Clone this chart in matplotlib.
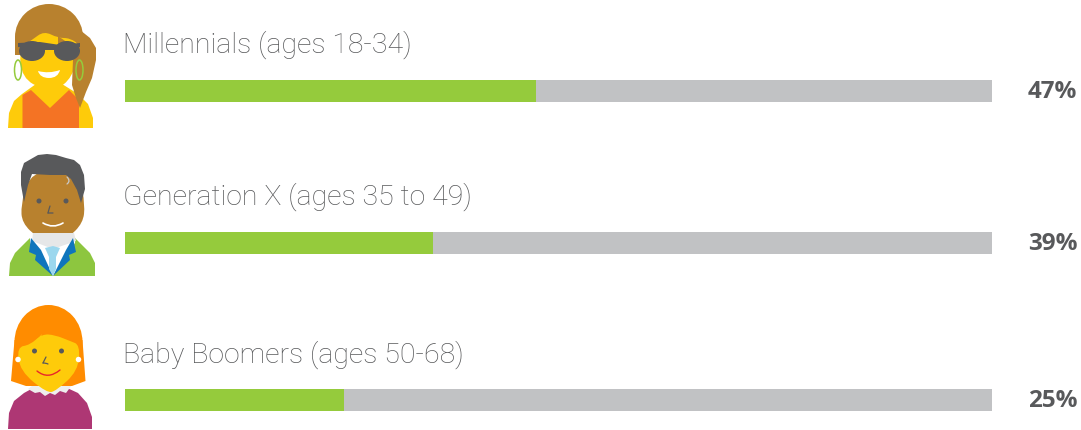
import matplotlib
matplotlib.use("Agg")
import matplotlib.pyplot as plt
from matplotlib.patches import Polygon, Ellipse, PathPatch
from matplotlib.path import Path

categories = ["Millennials (ages 18-34)", "Generation X (ages 35 to 49)", "Baby Boomers (ages 50-68)"]
bar_values = [47.4, 35.5, 25.3]          # green length as drawn in the picture
value_labels = ["47%", "39%", "25%"]
totals = [100, 100, 100]

GREEN, GREY = "#95cb3c", "#c1c2c4"
W, H = 1081, 430
fig = plt.figure(figsize=(W/100, H/100), dpi=100)
ax = fig.add_axes([0, 0, 1, 1])
ax.set_xlim(0, W); ax.set_ylim(H, 0); ax.axis("off")

# ---- bars
bar_left, bar_span = 125, 867
bar_y = [91, 243, 400]
label_y = [45, 197, 355]
for cat, v, t, lab, by, ly in zip(categories, bar_values, totals, value_labels, bar_y, label_y):
    ax.barh(by, t/100*bar_span, left=bar_left, height=22, color=GREY, lw=0, zorder=2)
    ax.barh(by, v/100*bar_span, left=bar_left, height=22, color=GREEN, lw=0, zorder=3)
    ax.text(123, ly, cat, family="Roboto", fontweight="light", fontsize=20.5, color="#58595b", va="center", ha="left")
    ax.text(1077.5, by+1, lab, family="Open Sans", fontweight="bold", fontsize=17.5, color="#58595b", va="center", ha="right")

def poly(pts, c, z=5):
    ax.add_patch(Polygon(pts, closed=True, fc=c, ec="none", zorder=z))
def smooth(pts, c, z=5):
    verts = [pts[0]]; codes = [Path.MOVETO]
    n = len(pts)
    for i in range(n):
        a, b = pts[i], pts[(i+1) % n]
        m = ((a[0]+b[0])/2, (a[1]+b[1])/2)
        verts += [a, m]; codes += [Path.CURVE3, Path.CURVE3]
    verts[0] = ((pts[-1][0]+pts[0][0])/2, (pts[-1][1]+pts[0][1])/2)
    ax.add_patch(PathPatch(Path(verts, codes), fc=c, ec="none", zorder=z))
def ell(x, y, w, h, c, z=5, ec="none", lw=0):
    ax.add_patch(Ellipse((x, y), w, h, fc=c, ec=ec, lw=lw, zorder=z))
def curve(p0, p1, p2, c, lw, z=9):
    ax.add_patch(PathPatch(Path([p0, p1, p2], [Path.MOVETO, Path.CURVE3, Path.CURVE3]),
                           fc="none", ec=c, lw=lw, zorder=z, capstyle="round"))

YEL, ORG, BRN, DK = "#fecb0a", "#f47324", "#b8812e", "#58595b"

# ---- avatar 1
poly([(8, 128), (9, 113), (14, 101), (22, 94), (36, 84), (62, 84), (78, 94), (88, 104), (93, 118), (93, 128)], YEL, 5)
poly([(22.5, 128), (22.5, 95), (31, 90), (50, 108), (69, 90), (79, 100), (79, 128)], ORG, 6)
ell(49, 37, 68, 66, BRN, 4)
poly([(15, 37), (15, 55), (82, 55), (82, 30)], BRN, 4)
poly([(80, 30), (90, 38), (96, 48), (96, 60), (92, 78), (86, 92), (80, 108), (76, 98), (72, 85), (73, 60)], BRN, 6.5)
smooth([(19, 48), (22, 78), (44, 90), (56, 90), (72, 78), (81, 46), (70, 38), (58, 38), (44, 31), (32, 40)], YEL, 5)
poly([(58, 36), (68, 43), (58, 44)], BRN, 5.5)
poly([(18, 43), (40, 42), (60, 45), (80, 43), (80, 47), (60, 50), (40, 50), (18, 47)], DK, 8)
ell(32, 51, 26, 20, DK, 8); ell(67, 51, 26, 20, DK, 8)
ell(18, 70, 7, 20, "none", 9, "#95cb3c", 1.1)
ell(79.5, 70, 7, 20, "none", 9, "#95cb3c", 1.1)
ax.add_patch(PathPatch(Path([(38, 71), (49, 74), (60, 70), (58, 78), (49, 78), (40, 78), (38, 71)],
                            [Path.MOVETO, Path.CURVE3, Path.CURVE3, Path.CURVE3, Path.CURVE3, Path.CURVE3, Path.CURVE3]),
                       fc="white", ec="none", zorder=9))

# ---- avatar 2 (y offset 145)
o = 145
p2 = lambda pts: [(x, y+o) for x, y in pts]
poly(p2([(9, 131), (10, 118), (15, 108), (30, 93), (75, 93), (90, 108), (95, 118), (95, 131)]), "#8dc63f", 5)
poly(p2([(30, 90), (75, 90), (75, 98), (53, 131), (30, 98)]), "white", 6)
poly(p2([(33, 88), (74, 88), (76, 96), (53, 104), (32, 96)]), "#e6e7e8", 6)
poly(p2([(31, 93), (29, 107), (36, 110), (35, 115), (53, 131), (41, 105)]), "#0f75bc", 7)
poly(p2([(73, 93), (76, 107), (69, 110), (70, 115), (53, 131), (66, 105)]), "#0f75bc", 7)
poly(p2([(45, 103), (53, 101), (60, 103), (56, 112), (56, 124), (53, 131), (49, 124), (49, 112)]), "#9bd7ee", 8)
smooth(p2([(21, 60), (22, 78), (38, 93), (53, 99), (68, 93), (83, 78), (85, 60), (80, 32), (53, 22), (28, 32)]), BRN, 5.5)
poly(p2([(24, 57), (21, 40), (21, 27), (24, 18), (31, 14), (38, 10), (47, 9), (56, 10), (66, 13), (74, 15), (80, 20), (84, 30), (85, 44), (81, 58), (77, 45), (71, 34), (66, 30), (50, 30), (32, 29), (28, 40)]), DK, 6)
ell(39, 56+o, 5, 5, DK, 7); ell(66, 56+o, 5, 5, DK, 7)
curve((50, 61+o), (49, 64+o), (48, 68+o), DK, 0.9)
curve((48, 68+o), (50, 68+o), (53, 68+o), DK, 0.9)
curve((43, 78+o), (53, 84+o), (63, 78+o), "white", 1.2)
curve((67, 32+o), (71, 36+o), (67, 39+o), "#c9cacc", 0.9)

# ---- avatar 3 (y offset 295)
o = 295
poly(p2([(8, 134), (9, 118), (14, 106), (24, 98), (35, 92), (65, 92), (78, 98), (87, 108), (92, 122), (92, 134)]), "#ae3774", 5)
poly(p2([(28, 94), (40, 85), (62, 85), (72, 90), (66, 98), (60, 96), (55, 100), (50, 98), (45, 101), (40, 97), (35, 98)]), "#eeeeee", 6)
ell(48.5, 47+o, 68, 74, "#ff8c00", 6.5)
poly(p2([(11, 86), (14.5, 45), (82.5, 45), (85.5, 86), (72, 91), (26, 91)]), "#ff8c00", 6.5)
smooth(p2([(17, 52), (20, 76), (47, 98), (56, 96), (78, 76), (80, 50), (70, 46), (55, 40), (42, 39), (30, 50)]), YEL, 7)
poly(p2([(30, 52), (42, 39), (38, 50)]), YEL, 7)
ell(34.5, 56+o, 5, 5, DK, 8); ell(61.5, 56+o, 5, 5, DK, 8)
ell(18, 64.5+o, 5.5, 5.5, "white", 8); ell(78.5, 64.5+o, 5.5, 5.5, "white", 8)
curve((46, 62+o), (44, 66+o), (43, 68+o), DK, 0.9)
curve((43, 68+o), (46, 68+o), (48, 69+o), DK, 0.9)
curve((37, 76+o), (48, 85+o), (60, 75+o), "#e8262a", 1.0)

fig.savefig("out.png", dpi=100)
